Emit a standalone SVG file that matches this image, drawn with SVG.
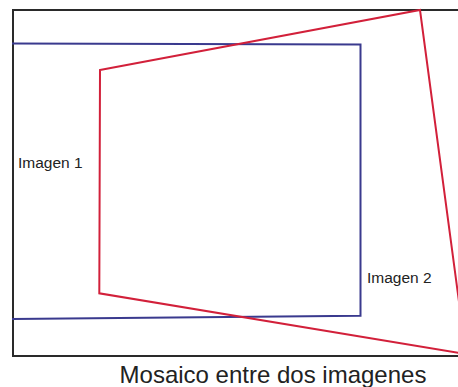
<svg xmlns="http://www.w3.org/2000/svg" width="458" height="387" viewBox="0 0 458 387">
<style>
.lbl{font-family:"Liberation Sans",Arial,sans-serif;fill:#222}
.frame{fill:none;stroke:#2a2a2a;stroke-width:2}
.img1{fill:none;stroke:#3a3a8e;stroke-width:2;stroke-linejoin:miter}
.img2{fill:none;stroke:#d2203a;stroke-width:2;stroke-linejoin:miter}
</style>
<rect width="458" height="387" fill="#ffffff"/>
<g id="mosaico">
<polyline class="frame" points="470,10 13,10 13,356 470,356"/>
</g>
<g id="imagen1">
<polyline class="img1" points="12,43.5 360.5,44.5 360.5,315.7 12,319"/>
<text class="lbl" x="18" y="168" font-size="15.5">Imagen 1</text>
</g>
<g id="imagen2">
<polygon class="img2" points="100,70 420,10 466,354 99.3,293.3"/>
<text class="lbl" x="367" y="283" font-size="15.5">Imagen 2</text>
</g>
<g id="connectors"></g>
<text class="lbl" x="273" y="383" font-size="24" text-anchor="middle">Mosaico entre dos imagenes</text>
</svg>
